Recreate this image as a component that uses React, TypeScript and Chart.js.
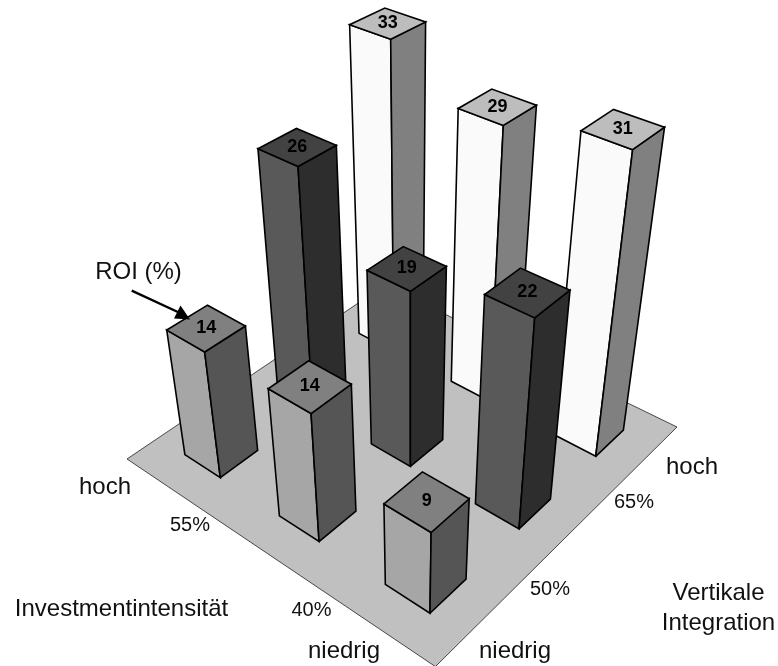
import React, { useEffect, useRef } from "react";
import { Chart, registerables } from "chart.js";

Chart.register(...registerables);

// ROI by investment intensity (rows) and vertical integration (columns)
const roiIntensityHigh = [14, 26, 33];
const roiIntensityMid = [14, 19, 29];
const roiIntensityLow = [9, 22, 31];

// Floor-plane positions of the bar footprints, 0..1 along each axis
const integrationSlots = [0.105, 0.44, 0.77];
const intensitySlots = [0.77, 0.435, 0.1];
const footprint = 0.13;

// Face colours for each integration column
const leftFaces = ["#a6a6a6", "#595959", "#fafafa"];
const rightFaces = ["#555555", "#2d2d2d", "#808080"];
const topFaces = ["#808080", "#424242", "#bdbdbd"];
const floorColor = "#c0c0c0";

const axisTexts = [
  { text: "ROI (%)", x: 138.5, y: 272, size: 24 },
  { text: "hoch", x: 105, y: 487, size: 24 },
  { text: "55%", x: 190, y: 525, size: 20 },
  { text: "Investmentintensität", x: 121.5, y: 609, size: 24 },
  { text: "40%", x: 311.5, y: 610, size: 20 },
  { text: "niedrig", x: 344, y: 651, size: 24 },
  { text: "niedrig", x: 515, y: 651, size: 24 },
  { text: "50%", x: 550, y: 589, size: 20 },
  { text: "65%", x: 634, y: 502, size: 20 },
  { text: "hoch", x: 692, y: 467, size: 24 },
  { text: "Vertikale", x: 718.5, y: 593, size: 24 },
  { text: "Integration", x: 718.5, y: 623, size: 24 },
];

// Perspective camera: floor corners plus the vertical vanishing point
const floorNear = [435.4, 666.6];
const floorRight = [677, 427];
const floorLeft = [127, 459];
const floorFar = [385, 285];
const vanish = [410, 2000];
const heightScale = -0.00638;

function makeProjection() {
  const sx = floorNear[0] - floorRight[0] + floorFar[0] - floorLeft[0];
  const sy = floorNear[1] - floorRight[1] + floorFar[1] - floorLeft[1];
  const dx1 = floorRight[0] - floorFar[0];
  const dx2 = floorLeft[0] - floorFar[0];
  const dy1 = floorRight[1] - floorFar[1];
  const dy2 = floorLeft[1] - floorFar[1];
  const det = dx1 * dy2 - dx2 * dy1;
  const g = (sx * dy2 - dx2 * sy) / det;
  const h = (dx1 * sy - sx * dy1) / det;
  const a = floorRight[0] - floorNear[0] + g * floorRight[0];
  const b = floorLeft[0] - floorNear[0] + h * floorLeft[0];
  const d = floorRight[1] - floorNear[1] + g * floorRight[1];
  const e = floorLeft[1] - floorNear[1] + h * floorLeft[1];
  return (u: number, v: number, z: number) => {
    const k = heightScale * z;
    const w = g * u + h * v + 1 + k;
    return {
      x: (a * u + b * v + floorNear[0] + k * vanish[0]) / w,
      y: (d * u + e * v + floorNear[1] + k * vanish[1]) / w,
    };
  };
}

const project = makeProjection();

function polygon(label: string, pts: { x: number; y: number }[], fillColor: string, stroke: string, width: number) {
  return {
    label,
    data: [...pts, pts[0]],
    backgroundColor: fillColor,
    borderColor: stroke,
    borderWidth: width,
    borderJoinStyle: "miter" as const,
    borderCapStyle: "round" as const,
    fill: "shape",
    pointRadius: 0,
    tension: 0,
    clip: false as const,
  };
}

function buildDatasets() {
  const rows = [roiIntensityHigh, roiIntensityMid, roiIntensityLow];
  const cells: { u: number; v: number; value: number; col: number }[] = [];
  rows.forEach((row, r) =>
    row.forEach((value, col) => cells.push({ u: integrationSlots[col], v: intensitySlots[r], value, col }))
  );
  // Painter's order: bars farthest from the viewer go first
  cells.sort((p, q) => q.u + q.v - (p.u + p.v));

  const layers = [
    polygon(
      "Boden",
      [project(0, 0, 0), project(1, 0, 0), project(1, 1, 0), project(0, 1, 0)],
      floorColor,
      "#222222",
      0.8
    ),
  ];
  cells.forEach(({ u, v, value, col }) => {
    const u2 = u + footprint;
    const v2 = v + footprint;
    const left = [project(u, v2, 0), project(u, v, 0), project(u, v, value), project(u, v2, value)];
    const right = [project(u, v, 0), project(u2, v, 0), project(u2, v, value), project(u, v, value)];
    const top = [project(u, v, value), project(u2, v, value), project(u2, v2, value), project(u, v2, value)];
    layers.push(polygon("links", left, leftFaces[col], "#000000", 1.6));
    layers.push(polygon("rechts", right, rightFaces[col], "#000000", 1.6));
    layers.push(polygon("oben", top, topFaces[col], "#000000", 1.6));
  });
  // Chart.js paints higher "order" values first
  const total = layers.length;
  return layers.map((layer, i) => ({ ...layer, order: total - i }));
}

const valueLabelPlugin = {
  id: "valueLabels",
  afterDatasetsDraw(chart: Chart) {
    const { ctx, scales } = chart;
    const rows = [roiIntensityHigh, roiIntensityMid, roiIntensityLow];
    ctx.save();
    ctx.textAlign = "center";
    ctx.textBaseline = "middle";
    ctx.fillStyle = "#000000";
    ctx.font = "bold 18px 'Liberation Sans'";
    rows.forEach((row, r) =>
      row.forEach((value, col) => {
        const c = project(integrationSlots[col] + footprint / 2, intensitySlots[r] + footprint / 2, value);
        ctx.fillText(String(value), scales.x.getPixelForValue(c.x), scales.y.getPixelForValue(c.y));
      })
    );
    ctx.fillStyle = "#111111";
    axisTexts.forEach((t) => {
      ctx.font = `${t.size}px 'Liberation Sans'`;
      ctx.fillText(t.text, scales.x.getPixelForValue(t.x), scales.y.getPixelForValue(t.y));
    });
    // Pointer from the "ROI (%)" caption to the first bar
    const px = (x: number) => scales.x.getPixelForValue(x);
    const py = (y: number) => scales.y.getPixelForValue(y);
    ctx.strokeStyle = "#000000";
    ctx.lineWidth = 2.4;
    ctx.beginPath();
    ctx.moveTo(px(131.7), py(290.7));
    ctx.lineTo(px(180), py(313));
    ctx.stroke();
    ctx.fillStyle = "#000000";
    ctx.beginPath();
    ctx.moveTo(px(190), py(319.5));
    ctx.lineTo(px(180.5), py(305.5));
    ctx.lineTo(px(174), py(318.5));
    ctx.closePath();
    ctx.fill();
    ctx.restore();
  },
};

export default function App() {
  const canvasRef = useRef<HTMLCanvasElement>(null);

  useEffect(() => {
    const chart = new Chart(canvasRef.current as HTMLCanvasElement, {
      type: "line",
      data: { datasets: buildDatasets() as any },
      options: {
        animation: false,
        responsive: false,
        layout: { padding: 0 },
        plugins: { legend: { display: false }, tooltip: { enabled: false } },
        scales: {
          x: { type: "linear", display: false, min: 0, max: 778 },
          y: { type: "linear", display: false, min: 0, max: 666, reverse: true },
        },
      },
      plugins: [valueLabelPlugin],
    });
    return () => chart.destroy();
  }, []);

  return (
    <div style={{ position: "absolute", left: 0, top: 0, width: 778, height: 666, background: "#ffffff" }}>
      <canvas ref={canvasRef} width={778} height={666} style={{ display: "block" }} />
    </div>
  );
}
